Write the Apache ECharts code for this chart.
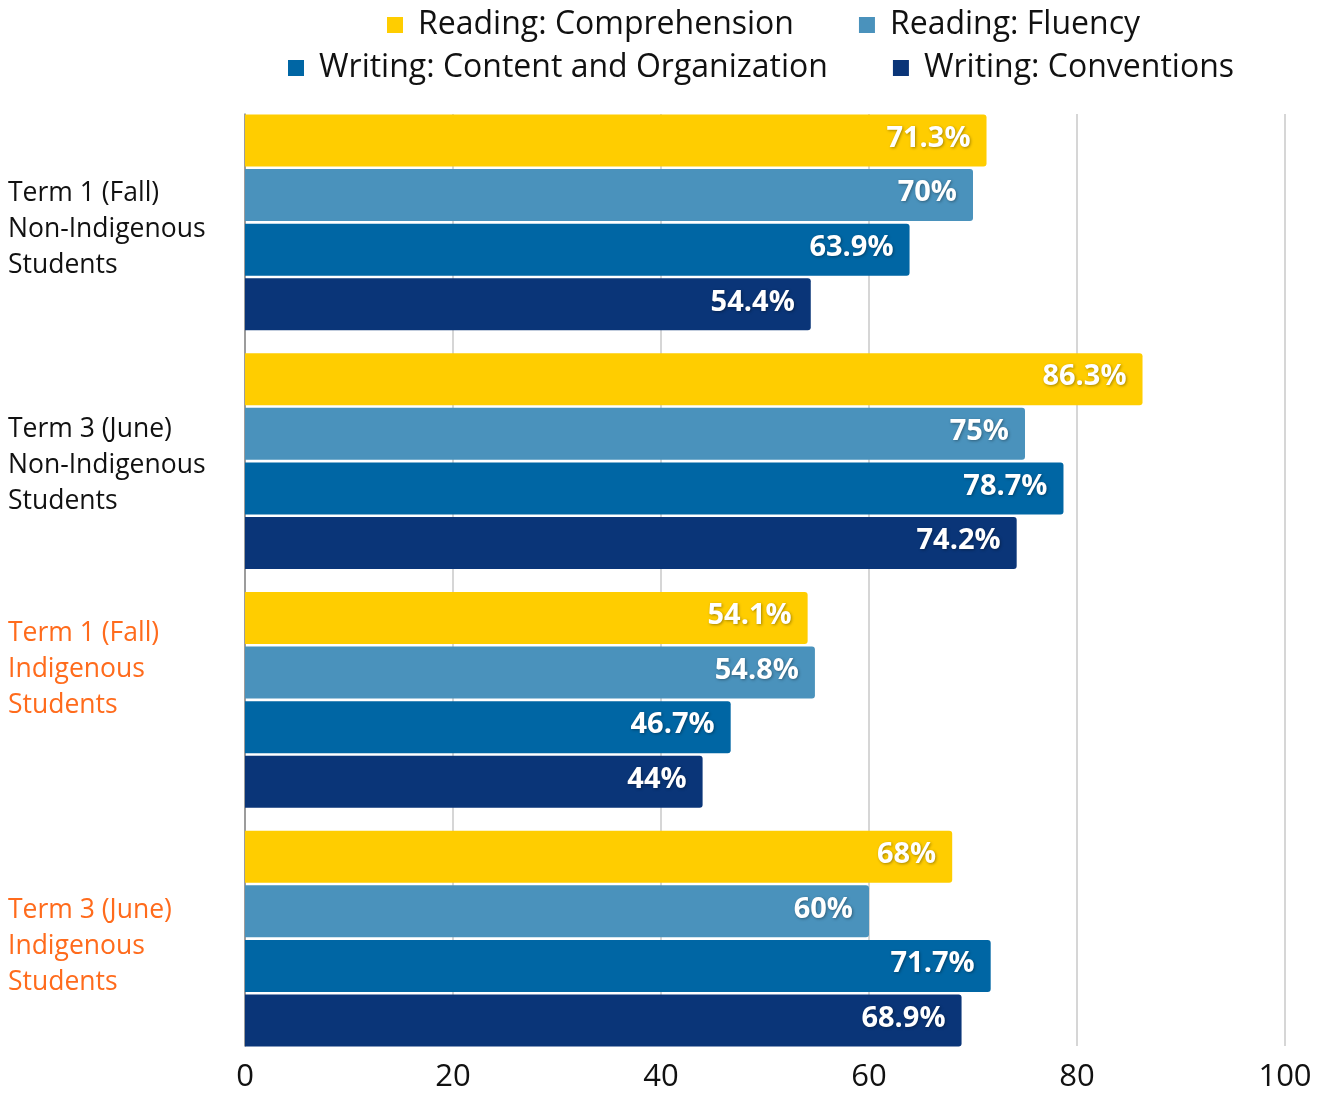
<!DOCTYPE html>
<html>
<head>
<meta charset="utf-8">
<script src="https://cdn.jsdelivr.net/npm/echarts@6/dist/echarts.min.js"></script>
<style>
  html, body { margin: 0; padding: 0; background: #fff; }
  #chart { width: 1325px; height: 1093px; }
</style>
</head>
<body>
<div id="chart"></div>
<script>
// categories, top to bottom (lines of each label)
const categories = [
  ['Term 1 (Fall)', 'Non-Indigenous', 'Students'],
  ['Term 3 (June)', 'Non-Indigenous', 'Students'],
  ['Term 1 (Fall)', 'Indigenous', 'Students'],
  ['Term 3 (June)', 'Indigenous', 'Students']
];
const isIndigenous = [false, false, true, true];

const readingComprehension = [71.3, 86.3, 54.1, 68];
const readingFluency = [70, 75, 54.8, 60];
const writingContent = [63.9, 78.7, 46.7, 71.7];
const writingConventions = [54.4, 74.2, 44, 68.9];

const xTicks = [0, 20, 40, 60, 80, 100];

// vertical nudge of each category label (px, + = down)
const labelShift = [7, 4, -30, 8];

const FONT = '"Open Sans", "Noto Sans", sans-serif';

function makeSeries(name, data, color) {
  return {
    name: name,
    type: 'bar',
    data: data,
    xAxisIndex: 0,
    yAxisIndex: 0,
    barWidth: 52,
    barGap: '5%',
    itemStyle: { color: color, borderRadius: [0, 3, 3, 0] },
    label: {
      show: true,
      position: 'insideRight',
      distance: 16,
      offset: [0, -2],
      formatter: p => p.value + '%',
      color: '#fff',
      fontFamily: FONT,
      fontWeight: 'bold',
      fontSize: 29,
      textShadowColor: 'rgba(0,0,0,0.35)',
      textShadowBlur: 3,
      textShadowOffsetX: 1,
      textShadowOffsetY: 1
    }
  };
}

const legendText = { fontFamily: FONT, fontSize: 32, color: '#111', padding: [0, 0, 0, 10] };

const catStyle = { fontFamily: FONT, fontSize: 26.5, lineHeight: 36 };

const chart = echarts.init(document.getElementById('chart'));
chart.setOption({
  animation: false,
  legend: [
    {
      data: ['Reading: Comprehension', 'Reading: Fluency'],
      left: 382, top: 4,
      icon: 'rect', itemWidth: 16, itemHeight: 16, itemGap: 65,
      textStyle: legendText
    },
    {
      data: ['Writing: Content and Organization', 'Writing: Conventions'],
      left: 283, top: 47,
      icon: 'rect', itemWidth: 16, itemHeight: 16, itemGap: 65,
      textStyle: legendText
    }
  ],
  grid: [
    { left: 245, right: 40, top: 103, bottom: 35 },
    { left: 245, right: 40, top: 114, bottom: 47 }
  ],
  xAxis: [
    {
      type: 'value',
      gridIndex: 0,
      min: xTicks[0],
      max: xTicks[xTicks.length - 1],
      interval: 20,
      axisLine: { show: false },
      axisTick: { show: false },
      splitLine: { show: false },
      axisLabel: {
        fontFamily: FONT, fontSize: 31, color: '#111', margin: 4,
        showMinLabel: true, showMaxLabel: true
      }
    },
    {
      type: 'value',
      gridIndex: 1,
      min: xTicks[0],
      max: xTicks[xTicks.length - 1],
      interval: 20,
      axisLine: { show: false },
      axisTick: { show: false },
      axisLabel: { show: false },
      splitLine: { lineStyle: { color: '#c8c8c8', width: 1.5 } }
    }
  ],
  yAxis: [
    {
      type: 'category',
      gridIndex: 0,
      data: categories.map(c => c.join('\n')),
      inverse: true,
      axisLine: { show: false },
      axisTick: { show: false },
      axisLabel: {
        align: 'left', margin: 237,
        formatter: (value, index) => {
          const tag = isIndigenous[index] ? 'o' : 't';
          const body = categories[index].map(l => '{' + tag + '|' + l + '}').join('\n');
          const s = labelShift[index];
          if (s > 0) return '{sp' + index + '| }\n' + body;
          if (s < 0) return body + '\n{sp' + index + '| }';
          return body;
        },
        rich: Object.assign(
          {
            t: Object.assign({ color: '#111' }, catStyle),
            o: Object.assign({ color: '#FF6B1C' }, catStyle)
          },
          ...labelShift.map((s, i) => ({ ['sp' + i]: { fontSize: 1, lineHeight: Math.abs(s) * 2, height: Math.abs(s) * 2 } }))
        )
      }
    },
    {
      type: 'value',
      gridIndex: 1,
      axisLine: { show: true, lineStyle: { color: '#888', width: 1.5 } },
      axisTick: { show: false },
      axisLabel: { show: false },
      splitLine: { show: false }
    }
  ],
  series: [
    makeSeries('Reading: Comprehension', readingComprehension, '#FFCD00'),
    makeSeries('Reading: Fluency', readingFluency, '#4A92BC'),
    makeSeries('Writing: Content and Organization', writingContent, '#0066A4'),
    makeSeries('Writing: Conventions', writingConventions, '#0A3578')
  ]
});
</script>
</body>
</html>
